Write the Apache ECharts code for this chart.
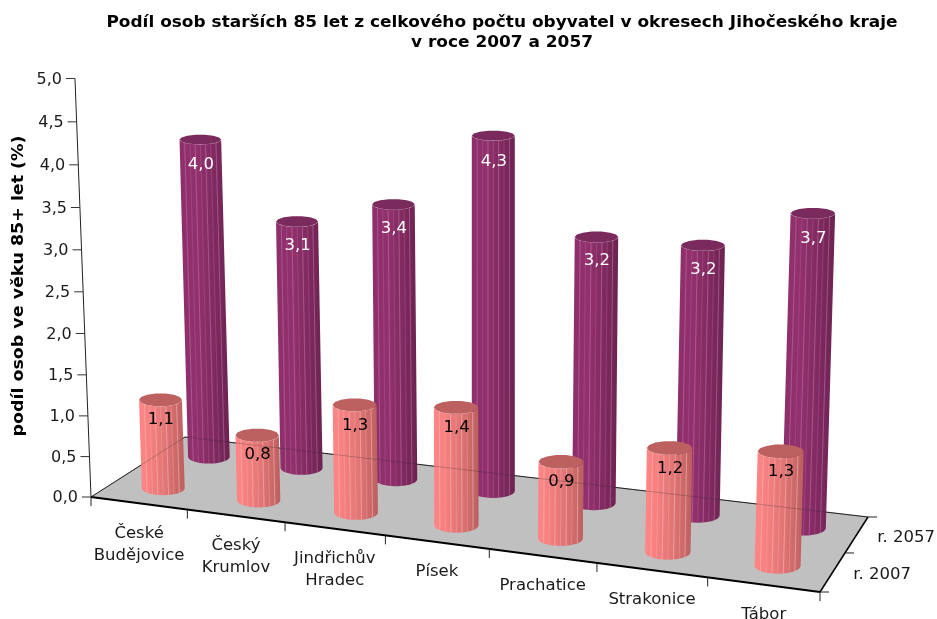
<!DOCTYPE html>
<html><head><meta charset="utf-8">
<style>html,body{margin:0;padding:0;background:#fff}#c{width:937px;height:619px}</style>
<script src="https://cdn.jsdelivr.net/npm/echarts@6/dist/echarts.min.js"></script>
</head><body><div id="c"></div>
<script>
const categories = [['České','Budějovice'],['Český','Krumlov'],['Jindřichův','Hradec'],['Písek'],['Prachatice'],['Strakonice'],['Tábor']];
const years = ['r. 2007','r. 2057'];
const values2007 = [1.1,0.8,1.3,1.4,0.9,1.2,1.3];
const values2057 = [4.02,3.1,3.4,4.3,3.2,3.2,3.66];
const valueTicks = [0,0.5,1,1.5,2,2.5,3,3.5,4,4.5,5];
const titleLines = ['Podíl osob starších 85 let z celkového počtu obyvatel v okresech Jihočeského kraje','v roce 2007 a 2057'];
const yName = 'podíl osob ve věku 85+ let (%)';

const FONT = '"DejaVu Sans"';
const G = {left:91, top:79, right:820, bottom:497};
const C = [[91,497],[820,592],[868,517],[185,437]]; // floor corners
const VP = [493, 11000];
const A = 0.00765;

// plane homography from (u,v) in unit square to the floor quad
const H = (function(){
  const [p0,p1,p2,p3]=C;
  const dx1=p1[0]-p2[0],dx2=p3[0]-p2[0],sx=p0[0]-p1[0]+p2[0]-p3[0];
  const dy1=p1[1]-p2[1],dy2=p3[1]-p2[1],sy=p0[1]-p1[1]+p2[1]-p3[1];
  const den=dx1*dy2-dx2*dy1;
  const g=(sx*dy2-dx2*sy)/den,h=(dx1*sy-sx*dy1)/den;
  return {a:p1[0]-p0[0]+g*p1[0],b:p3[0]-p0[0]+h*p3[0],c:p0[0],
          d:p1[1]-p0[1]+g*p1[1],e:p3[1]-p0[1]+h*p3[1],f:p0[1],g,h};
})();
function floor(u0,v){
  const u=u0+0.0062*(1-Math.pow(2*u0-1,4));
  const w=H.g*u+H.h*v+1;
  return [(H.a*u+H.b*v+H.c)/w,(H.d*u+H.e*v+H.f)/w];
}
function lift(P,val){
  const hs=80.5+(P[1]-497)*0.1;
  const s=1+hs/(VP[1]-P[1])*val/(1-A*val);
  return [VP[0]+(P[0]-VP[0])*s,VP[1]+(P[1]-VP[1])*s];
}
const nCat=categories.length;
function line(a,b,stroke,lineWidth,opacity){
  return {type:'line',shape:{x1:a[0],y1:a[1],x2:b[0],y2:b[1]},style:{stroke,lineWidth,opacity:opacity==null?1:opacity}};
}
function text(t,x,y,o){
  return {type:'text',style:Object.assign({text:t,x,y,fill:'#1a1a1a',font:'16px '+FONT,align:'center',verticalAlign:'middle'},o||{})};
}
function ell(c,rx,ry,from,to,n){
  const pts=[];
  for(let i=0;i<=n;i++){
    const t=from+(to-from)*i/n;
    pts.push([c[0]+rx*Math.cos(t),c[1]+ry*Math.sin(t)]);
  }
  return pts;
}
function renderFrame(params,api){
  const ch=[];
  ch.push({type:'polygon',shape:{points:C},style:{fill:'#c0c0c0'}});
  ch.push(line(C[3],C[2],'#222',1));
  ch.push(line(C[0],C[3],'#222',1));
  ch.push(line(C[0],C[1],'#000',2));
  ch.push(line(C[1],C[2],'#000',1.5));
  // value axis
  ch.push(line(lift(C[0],5),C[0],'#222',1));
  valueTicks.forEach(t=>{
    const v=(G.bottom-api.coord([0,t])[1])/(G.bottom-G.top)*5;
    const p=lift(C[0],v);
    ch.push(line([p[0]-9,p[1]],p,'#333',1));
    ch.push(text(t.toFixed(1).replace('.',','),p[0]-13,p[1]+1,{align:'right'}));
  });
  // category axis
  for(let i=0;i<=nCat;i++){
    const p=floor(i/nCat,0);
    ch.push(line(p,[p[0],p[1]+9],'#222',1));
  }
  categories.forEach((c,i)=>{
    const x=(api.coord([i,0])[0]-G.left)/(G.right-G.left);
    const p=floor(x,0);
    ch.push(text(c.join('\n'),p[0],p[1]+19,{verticalAlign:'top',lineHeight:22,font:'16.5px '+FONT}));
  });
  // depth axis
  for(let i=0;i<=years.length;i++){
    const p=floor(1,i/years.length);
    ch.push(line(p,[p[0]+9,p[1]],'#222',1));
  }
  years.forEach((y,i)=>{
    const p=floor(1,(i+0.5)/years.length);
    ch.push(text(y,p[0]+20.5,p[1]+3,{align:'left',font:'16.5px '+FONT}));
  });
  ch.push({type:'text',rotation:Math.PI/2,scaleX:1.09,x:19,y:286,
    style:{text:yName,x:0,y:0,fill:'#000',font:'bold 16px '+FONT,align:'center',verticalAlign:'middle'}});
  titleLines.forEach((t,i)=>{
    ch.push({type:'text',x:502,y:23+i*20,scaleX:1.13,
      style:{text:t,x:0,y:0,fill:'#000',font:'bold 15px '+FONT,align:'center',verticalAlign:'middle'}});
  });
  return {type:'group',children:ch};
}
function barRenderer(depth,pal,dy){
  return function(params,api){
    const c=api.coord([api.value(0),api.value(1)]);
    const u=(c[0]-G.left)/(G.right-G.left);
    const val=(G.bottom-c[1])/(G.bottom-G.top)*5;
    const P0=floor(u,(depth+0.5)/years.length);
    const P=[P0[0],P0[1]+dy];
    const T=lift(P,val);
    const rx=20.8+(P[1]-456)*0.02, ry=rx*0.33, topRy=ry*(1-0.07*val);
    const ch=[];
    const pts=ell(P,rx,ry,Math.PI,0,14).concat(ell(T,rx,topRy,0,Math.PI,14));
    ch.push({type:'polygon',shape:{points:pts},style:{fill:{type:'linear',x:0,y:0,x2:1,y2:0,colorStops:pal.body}}});
    const n=8;
    for(let i=1;i<n;i++){
      const f=i/n, dx=Math.sqrt(Math.max(0,1-(2*f-1)*(2*f-1)));
      const a=[T[0]-rx+2*rx*f,T[1]+topRy*dx], b=[P[0]-rx+2*rx*f,P[1]+ry*dx];
      ch.push(line(a,b,pal.stripe,1,i%2?0.6:0.3));
    }
    ch.push({type:'polygon',shape:{points:ell(T,rx,topRy,0,Math.PI*2,14)},style:{fill:pal.top}});
    ch.push(text(api.value(1).toFixed(1).replace('.',','),T[0]+0.5,T[1]+18+1.9*val,{fill:pal.label,font:'16.5px '+FONT}));
    return {type:'group',children:ch};
  };
}
function renderOverlay(){
  return {type:'group',children:[line(C[3],C[2],'#222',1,0.25),line(C[0],C[3],'#222',1,0.25)]};
}
const pink={body:[{offset:0,color:'#ff8686'},{offset:0.25,color:'#f58080'},{offset:0.6,color:'#e07474'},{offset:1,color:'#bb5f5f'}],stripe:'#f8b8b8',top:'#bd6060',label:'#000'};
const plum={body:[{offset:0,color:'#8c2f6b'},{offset:0.35,color:'#92316c'},{offset:0.7,color:'#7f2a5f'},{offset:1,color:'#6c2351'}],stripe:'#c070a8',top:'#7a2a5c',label:'#fff'};
const common={type:'custom',coordinateSystem:'cartesian2d',encode:{x:0,y:1},silent:true,clip:false};
const chart=echarts.init(document.getElementById('c'),null,{renderer:'canvas'});
chart.setOption({
  animation:false,
  backgroundColor:'#fff',
  grid:{left:G.left,top:G.top,width:G.right-G.left,height:G.bottom-G.top},
  xAxis:{type:'category',data:categories.map(c=>c.join(' ')),show:false},
  yAxis:{type:'value',min:0,max:5,interval:0.5,show:false},
  series:[
    Object.assign({},common,{z:1,data:[[0,0]],renderItem:renderFrame}),
    Object.assign({},common,{z:2,name:years[1],data:values2057.map((v,i)=>[i,v]),renderItem:barRenderer(1,plum,0)}),
    Object.assign({},common,{z:3,name:years[0],data:values2007.map((v,i)=>[i,v]),renderItem:barRenderer(0,pink,1)}),
    Object.assign({},common,{z:4,data:[[0,0]],renderItem:renderOverlay})
  ]
});
</script></body></html>
